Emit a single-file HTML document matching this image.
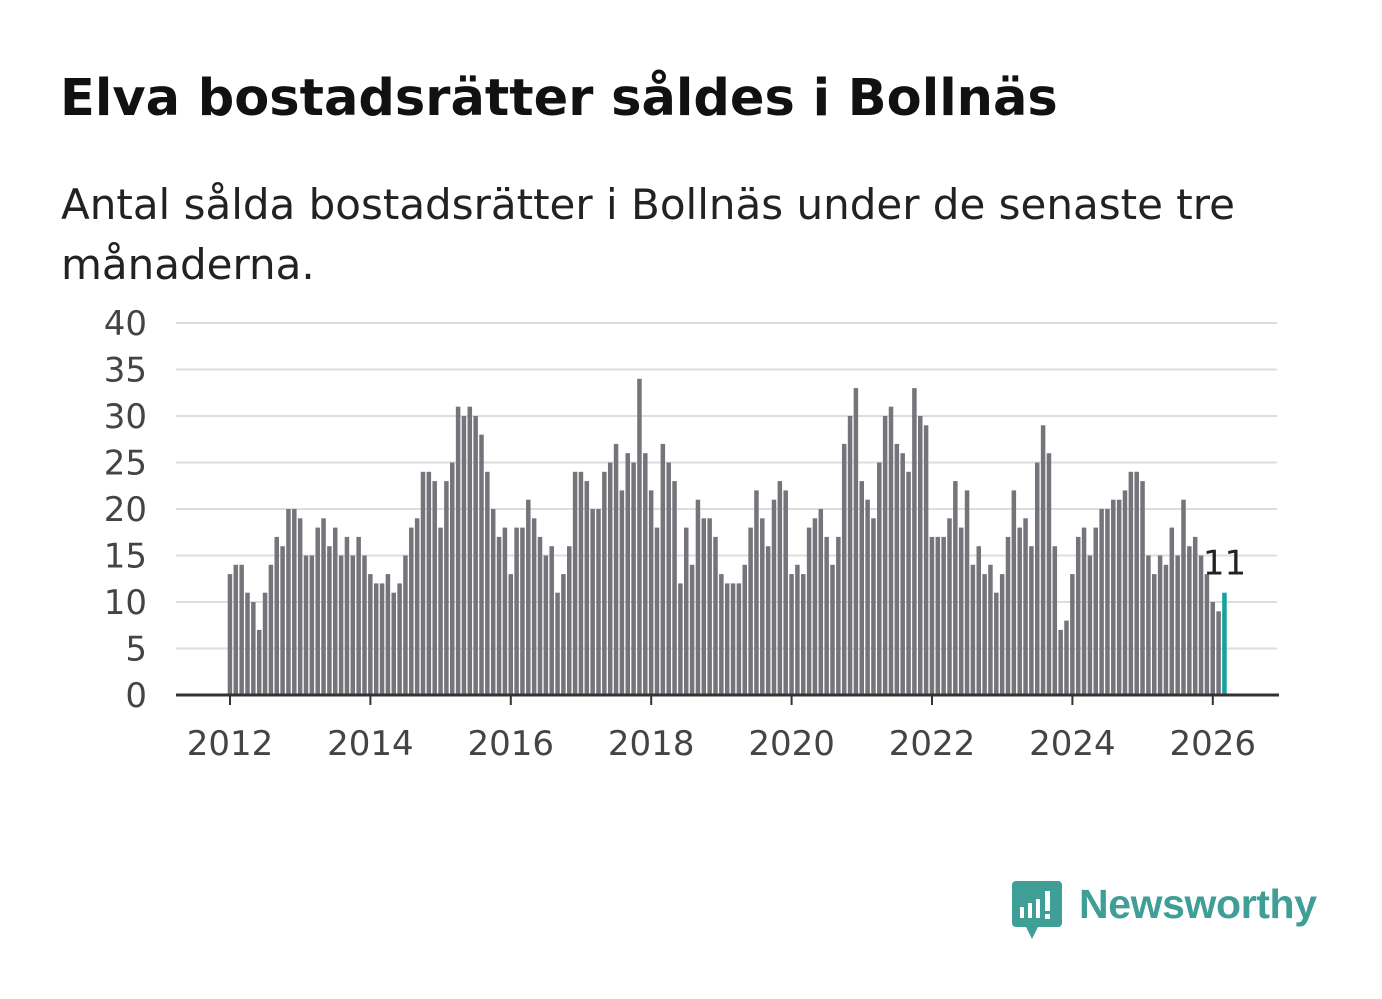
<!DOCTYPE html>
<html><head><meta charset="utf-8"><style>
body{margin:0;background:#fff;width:1382px;height:999px;overflow:hidden;font-family:"DejaVu Sans","Liberation Sans",sans-serif;}
#title{position:absolute;left:60px;top:69px;font-size:51px;font-weight:bold;color:#111;margin:0;white-space:nowrap;}
#sub{position:absolute;left:61px;top:175px;font-size:42px;line-height:60px;color:#222;width:1270px;}
svg{position:absolute;left:0;top:0;}
</style></head><body>
<h1 id="title">Elva bostadsrätter såldes i Bollnäs</h1>
<div id="sub">Antal sålda bostadsrätter i Bollnäs under de senaste tre månaderna.</div>
<svg id="chart" width="1382" height="999"></svg>
<svg width="1382" height="999">
<path d="M1016 881 h42 a4 4 0 0 1 4 4 v38 a4 4 0 0 1 -4 4 h-20 l-6 12 l-6 -12 h-10 a4 4 0 0 1 -4 -4 v-38 a4 4 0 0 1 4 -4z" fill="#3f9e95"/>
<rect x="1020" y="907" width="4" height="11" fill="#fff"/><rect x="1028" y="903" width="4" height="15" fill="#fff"/><rect x="1036" y="899" width="4" height="19" fill="#fff"/><rect x="1045" y="891" width="5" height="20" fill="#fff"/><rect x="1045" y="914" width="5" height="5" fill="#fff"/>
<text x="1079" y="918" font-size="41" font-weight="bold" fill="#3f9e95" font-family="Liberation Sans, sans-serif" textLength="238">Newsworthy</text>
</svg>
<script>
const years=[2012,2014,2016,2018,2020,2022,2024,2026];
const yTicks=[0,5,10,15,20,25,30,35,40];
const values=[13,14,14,11,10,7,11,14,17,16,20,20,
19,15,15,18,19,16,18,15,17,15,17,15,
13,12,12,13,11,12,15,18,19,24,24,23,
18,23,25,31,30,31,30,28,24,20,17,18,
13,18,18,21,19,17,15,16,11,13,16,24,
24,23,20,20,24,25,27,22,26,25,34,26,
22,18,27,25,23,12,18,14,21,19,19,17,
13,12,12,12,14,18,22,19,16,21,23,22,
13,14,13,18,19,20,17,14,17,27,30,33,
23,21,19,25,30,31,27,26,24,33,30,29,
17,17,17,19,23,18,22,14,16,13,14,11,
13,17,22,18,19,16,25,29,26,16,7,8,
13,17,18,15,18,20,20,21,21,22,24,24,
23,15,13,15,14,18,15,21,16,17,15,13,
10,9,11];
const NS="http://www.w3.org/2000/svg";
const svg=document.getElementById('chart');
const x=t=>230+(t-2012)*70.2;
const y=v=>695-v*9.3;
function mk(tag,at){const e=document.createElementNS(NS,tag);for(const k in at)e.setAttribute(k,at[k]);svg.appendChild(e);return e;}
yTicks.forEach(v=>{
 if(v>0){const g=mk('line',{x1:176,x2:1277,y1:y(v),y2:y(v),stroke:'#ddd','stroke-width':2});
 
 }
 const t=mk('text',{x:147,y:y(v)+12,'text-anchor':'end','font-size':34,fill:'#444','font-family':'DejaVu Sans, sans-serif'});
 t.textContent=v;
 
 
});
values.forEach((v,i)=>{
 const last=i===values.length-1;
 const r=mk('rect',{x:x(2012+i/12)-2.3,y:y(v),width:4.5,height:y(0)-y(v),fill:last?'#12a39b':'#75747a'});
 
 
});
const lv=values[values.length-1];
const lbl=mk('text',{x:x(2012+(values.length-1)/12),y:y(lv)-18,'text-anchor':'middle','font-size':34,fill:'#222','font-family':'DejaVu Sans, sans-serif'});
lbl.textContent=lv;


const ax=mk('line',{x1:176,x2:1279,y1:695,y2:695,stroke:'#333','stroke-width':3});


years.forEach(yr=>{
 const tk=mk('line',{x1:x(yr),x2:x(yr),y1:695,y2:705,stroke:'#333','stroke-width':2});
 
 
 const t=mk('text',{x:x(yr),y:755,'text-anchor':'middle','font-size':34,fill:'#444','font-family':'DejaVu Sans, sans-serif'});
 t.textContent=yr;
 
 
});
</script>
</body></html>
